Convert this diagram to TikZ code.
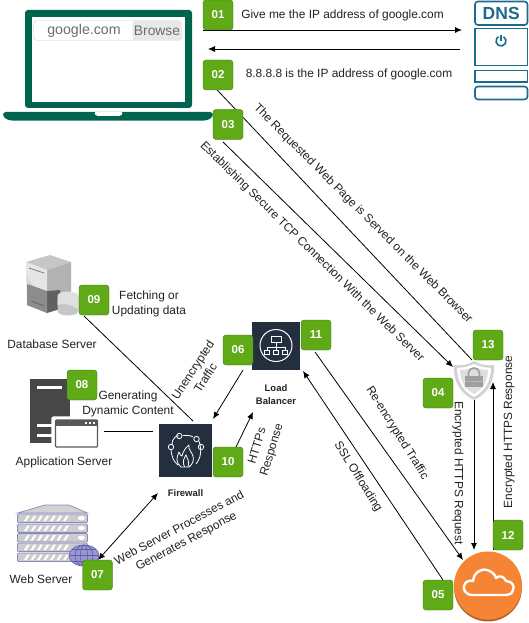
\documentclass[tikz,border=0pt]{standalone}
\usepackage{fontspec}
\setmainfont{Liberation Sans}
\usepackage{xcolor}
\usetikzlibrary{arrows.meta,shapes.geometric}
\definecolor{badge}{HTML}{60A917}
\definecolor{badgeb}{HTML}{3F7A10}
\definecolor{lap}{HTML}{00644F}
\definecolor{dnsc}{HTML}{1A6B8C}
\definecolor{awsd}{HTML}{232F3E}
\definecolor{orng}{HTML}{F58534}
\definecolor{txt}{HTML}{222222}
\tikzset{
 x=1pt,y=-1pt,
 badgebox/.style={draw=badgeb,fill=badge,rounded corners=3pt,minimum width=30pt,minimum height=30pt,inner sep=0pt,text=white,font=\fontsize{11.5}{11.5}\selectfont\bfseries},
 badgeserif/.style={badgebox,font=\fontsize{11.5}{11.5}\selectfont\bfseries\rmfamily},
 lbl/.style={inner sep=0pt,align=center,text=txt,font=\fontsize{11.9}{15}\selectfont},
 boldlbl/.style={inner sep=0pt,align=center,text=txt,font=\fontsize{9.5}{12.5}\selectfont\bfseries},
 conn/.style={draw=black,line width=.8pt},
 arr/.style={conn,-{Latex[length=7pt,width=6pt]}},
 darr/.style={conn,{Latex[length=7pt,width=6pt]}-{Latex[length=7pt,width=6pt]}},
 awsbox/.style={fill=awsd,draw=none,inner sep=0pt},
 icon/.style={draw=white,line width=.8pt,fill=none},
}
\begin{document}
\begin{tikzpicture}
\useasboundingbox (0,0) rectangle (529,623);
\fill[white] (0,0) rectangle (529,623);
% laptop
\fill[lap,rounded corners=3pt] (25,108) -- (25,10) -- (192,10) -- (192,108) -- cycle;
\fill[white] (32,17) rectangle (185,102);
\fill[lap,rounded corners=3pt] (3,112) -- (213,112) -- (213,117) -- (207,120.5) -- (9,120.5) -- (3,117) -- cycle;
\fill[white,rounded corners=1.5pt] (94,112) -- (123,112) -- (121,116) -- (96,116) -- cycle;
\draw[draw=gray!40,rounded corners=4pt,fill=white] (33.5,20.5) rectangle (182,40.5);
\fill[gray!18,rounded corners=4pt] (132.5,21) rectangle (181.5,40);
\fill[gray!18] (132.5,21) rectangle (140,40);
\node[inner sep=0pt,text=gray!85!black,font=\fontsize{14.2}{14}\selectfont] (site) at (84,30.5) {google.com};
\node[inner sep=0pt,text=gray!85!black,font=\fontsize{13.8}{14}\selectfont] (browse) at (157,30.5) {Browse};
\coordinate (lapA) at (203,30);
\coordinate (lapB) at (208,49);
\coordinate (lapC) at (204,76);
% DNS
\begin{scope}[draw=dnsc,line width=1.6pt]
\draw[rounded corners=3pt] (475,25) -- (475,1.5) -- (527.5,1.5) -- (527.5,25) -- cycle;
\draw (475,28.5) rectangle (527.5,65.5);
\draw (475,70.5) rectangle (527.5,82);
\draw[rounded corners=3pt] (475,86.5) -- (527.5,86.5) -- (527.5,99.5) -- (475,99.5) -- cycle;
\draw (503.5,36.7) arc[start angle=-60,end angle=240,radius=5];
\draw (501,35.5) -- (501,41);
\end{scope}
\node[inner sep=0pt,text=dnsc,font=\fontsize{17.5}{17}\selectfont\bfseries] (dnsl) at (501.2,13.5) {DNS};
\coordinate (dnsA) at (462,30);
\coordinate (dnsB) at (460,49);
% database server
\fill[gray!45] (26,262) -- (50,255) -- (71,262) -- (47,270) -- cycle;
\fill[gray!30] (26,262) -- (47,270) -- (47,313) -- (27,305) -- cycle;
\fill[gray!60] (47,270) -- (71,262) -- (71,295) -- (47,300) -- cycle;
\fill[gray!20] (26,262) -- (47,270) -- (47,291) .. controls (35,291) and (28,280) .. (26,270) -- cycle;
\fill[black!62] (47,291) -- (60,290) -- (60,309) -- (47,313) -- cycle;
\fill[black!45] (27,284) -- (47,291) -- (47,313) -- (27,305) -- cycle;
\draw[black!65,line width=.6pt] (29,268) -- (44,273);
\draw[black!65,line width=.6pt] (31,301) -- (44,306);
\fill[gray!45] (57.5,296) -- (57.5,311) arc[start angle=180,end angle=0,x radius=10.5,y radius=4.5] -- (78.5,296) -- cycle;
\fill[gray!25] (68,296) ellipse[x radius=10.5,y radius=4.5];
\fill[gray!25] (57.5,305) .. controls (62,303) and (72,304) .. (78.5,310) -- (78.5,298) -- (57.5,298) -- cycle;
\node[lbl] (dbl) at (52,344.5) {Database Server};
% application server
\fill[black!72] (30,379) -- (70,379) -- (70,443) -- (30,443) -- cycle;
\fill[white] (37,386) rectangle (62,388.5);
\fill[white] (37,424) rectangle (56,426.5);
\fill[white] (37,434) rectangle (56,436.5);
\draw[white,line width=1.5pt,fill=white,rounded corners=2pt] (52,417) rectangle (99,449);
\draw[black!65,line width=1.3pt,fill=white,rounded corners=1pt] (55.5,420) rectangle (97.5,447);
\fill[black!65] (55.5,420) rectangle (97.5,425.5);
\fill[white] (85,421.5) rectangle (87,423.5);
\fill[white] (89,421.5) rectangle (91,423.5);
\fill[white] (93,421.5) rectangle (95,423.5);
\node[lbl] (appl) at (64,462.5) {Application Server};
\coordinate (appA) at (104,431);
% web server
\fill[gray!35,draw=blue!30!gray!70,line width=.7pt] (17.5,513) -- (45,505) -- (69,505) -- (87.5,513) -- cycle;
\foreach \yy in {514,524,533.5,543,553}{
 \fill[gray!40,draw=blue!30!gray!70,line width=.7pt,rounded corners=1pt] (17.5,\yy) rectangle (87.5,\yy+8.5);
 \foreach \xx in {24,30.5,...,64}{\fill[white] (\xx,\yy+7) -- (\xx+2.5,\yy+7) -- (\xx+6,\yy+1.5) -- (\xx+3.5,\yy+1.5) -- cycle;}
 \fill[white] (81.5,\yy+4.2) ellipse[x radius=3.5,y radius=2.2];
}
\fill[blue!35!gray!60] (84,555.5) ellipse[x radius=15,y radius=10.5];
\begin{scope}[draw=blue!35!gray!95,line width=.6pt]
\draw (84,555.5) ellipse[x radius=15,y radius=10.5];
\draw (84,555.5) ellipse[x radius=9,y radius=10.5];
\draw (84,555.5) ellipse[x radius=3.5,y radius=10.5];
\draw (69.5,555.5) -- (99,555.5);
\draw (72,549.5) -- (96,549.5);
\draw (72,561.5) -- (96,561.5);
\end{scope}
\node[lbl] (webl) at (41,579.5) {Web Server};
% firewall
\node[awsbox,minimum width=53pt,minimum height=53pt] (fw) at (185.5,450.5) {};
\begin{scope}
\draw[icon] (172,445) .. controls (172,437) and (178,435) .. (179,436);
\draw[icon] (183,435.5) .. controls (188,435) and (192,436) .. (193,437);
\draw[icon] (199,441) .. controls (202,450) and (201,458) .. (196,464);
\draw[icon] (171,450) .. controls (172,458) and (174,462) .. (178,465);
\foreach \px/\py in {179.3/436,196.5/439,201/447,171/447}{\draw[icon] (\px,\py) circle[radius=2.7];}
\draw[icon,line join=round] (181,467) .. controls (176,463) and (176,458) .. (179,452) .. controls (180,455) and (181,456) .. (182,456) .. controls (183,452) and (185,448) .. (189,445) .. controls (188,450) and (192,452) .. (193,456) .. controls (194,460) and (193,464) .. (189,467) -- cycle;
\draw[icon] (184.5,467) .. controls (182,462) and (184,458) .. (186,455) .. controls (187,459) and (190,461) .. (188,467);
\end{scope}
\node[boldlbl] (fwl) at (185.5,493.5) {Firewall};
% load balancer
\node[awsbox,minimum width=48pt,minimum height=48pt] (lb) at (276,345.5) {};
\draw[draw=white,line width=1pt] (276,345.5) circle[radius=16];
\begin{scope}[draw=white,line width=.8pt]
\draw (271,336) rectangle (281,342);
\draw (276,342) -- (276,347);
\draw (267,350) -- (267,347) -- (285,347) -- (285,350);
\draw (276,347) -- (276,350);
\draw (264.5,350) rectangle (269.5,354);
\draw (273.5,350) rectangle (278.5,354);
\draw (282.5,350) rectangle (287.5,354);
\end{scope}
\node[boldlbl] (lbl1) at (276,394.5) {Load\\Balancer};
% shield
\node[inner sep=0pt,minimum size=1pt] (shield) at (474,380) {};
\fill[gray!35] (474,361) .. controls (480,365) and (488,366) .. (494,365) .. controls (495,382) and (487,394) .. (474,400) .. controls (461,394) and (453,382) .. (454,365) .. controls (460,366) and (468,365) .. (474,361) -- cycle;
\fill[white] (474,364) .. controls (480,367) and (486,368) .. (491,367.5) .. controls (491,381) and (485,391) .. (474,397) .. controls (463,391) and (457,381) .. (457,367.5) .. controls (462,368) and (468,367) .. (474,364) -- cycle;
\fill[gray!25] (474,367) .. controls (479,369) and (484,370) .. (488,370) .. controls (488,381) and (483,389) .. (474,394) .. controls (465,389) and (460,381) .. (460,370) .. controls (464,370) and (469,369) .. (474,367) -- cycle;
\fill[gray!75] (465,376) rectangle (483,387);
\draw[gray!75,line width=1.7pt] (468.5,376) -- (468.5,373) arc[start angle=180,end angle=360,x radius=5.5,y radius=5] -- (479.5,376);
\fill[gray!55] (465,381) rectangle (483,382);
% cloud
\fill[orng!75!black] (488,587.5) circle[radius=34];
\fill[orng] (488,585.5) circle[radius=34];
\draw[white,line width=2.4pt,line join=round,fill=none] (473,595) .. controls (465,595) and (463,589) .. (464,586) .. controls (465,581) and (470,580) .. (473,581) .. controls (473,574) and (480,568) .. (487,570) .. controls (491,571) and (495,574) .. (496,578) .. controls (499,575) and (504,576) .. (506,581) .. controls (512,581) and (515,586) .. (513,590) .. controls (512,594) and (509,595) .. (506,595) -- cycle;
% connector ends
\coordinate (c13) at (472,360);
\coordinate (c03) at (223,142);
\coordinate (c04) at (453,367);
\coordinate (c11) at (315,352);
\coordinate (cloudA) at (463,560);
\coordinate (cloudB) at (443,580);
\coordinate (lbA) at (303,371);
\coordinate (c06) at (243,370);
\coordinate (fwA) at (213,419);
\coordinate (c10) at (236,447);
\coordinate (lbB) at (253,412);
\coordinate (c07) at (98,560);
\coordinate (fwB) at (158,493);
\coordinate (c09) at (84,316);
\coordinate (fwC) at (193,421);
\coordinate (fwD) at (153,431);
\coordinate (shA) at (474,400);
\coordinate (cloudC) at (474,550);
\coordinate (cloudD) at (493,550);
\coordinate (shB) at (493,382);
% connectors
\draw[arr] (lapA) -- (dnsA);
\draw[arr] (dnsB) -- (lapB);
\draw[arr] (c13) -- (lapC);
\draw[arr] (c03) -- (c04);
\draw[arr] (c11) -- (cloudA);
\draw[arr] (cloudB) -- (lbA);
\draw[arr] (c06) -- (fwA);
\draw[arr] (c10) -- (lbB);
\draw[darr] (c07) -- (fwB);
\draw[conn] (c09) -- (fwC);
\draw[conn] (appA) -- (fwD);
\draw[arr] (shA) -- (cloudC);
\draw[arr] (cloudD) -- (shB);
% badges
\node[badgebox] (b01) at (218,15) {01};
\node[badgebox] (b02) at (218,75) {02};
\node[badgebox] (b03) at (228,124.5) {03};
\node[badgebox] (b04) at (438,393) {04};
\node[badgebox] (b05) at (438,595) {05};
\node[badgebox] (b06) at (238,350) {06};
\node[badgeserif] (b07) at (97.5,575) {07};
\node[badgeserif] (b08) at (82,385) {08};
\node[badgeserif] (b09) at (94,300) {09};
\node[badgebox] (b10) at (228,462) {10};
\node[badgebox] (b11) at (316,335) {11};
\node[badgebox] (b12) at (508,535) {12};
\node[badgebox] (b13) at (488,345) {13};
% labels
\node[lbl] (t01) at (342.5,15) {Give me the IP address of google.com};
\node[lbl] (t02) at (349,74.5) {8.8.8.8 is the IP address of google.com};
\node[lbl,rotate=-45] (t13) at (363,214) {The Requested Web Page is Served on the Web Browser};
\node[lbl,rotate=-44.5] (t03) at (312,252) {Establishing Secure TCP Connection With the Web Server};
\node[lbl,rotate=-58] (t11) at (397,433) {Re-encrypted Traffic};
\node[lbl,rotate=-58] (t05) at (358,477) {SSL Offloading};
\node[lbl,rotate=-90] (t04) at (458,473) {Encrypted HTTPS Request};
\node[lbl,rotate=90] (t12) at (509,432) {Encrypted HTTPS Response};
\node[lbl,rotate=57] (t06) at (199,374) {Unencrypted\\Traffic};
\node[lbl,rotate=73] (t10) at (265,448) {HTTPs\\Response};
\node[lbl,rotate=28] (t07) at (183,535) {Web Server Processes and\\Generates Response};
\node[lbl] (t09) at (149,304) {Fetching or\\Updating data};
\node[lbl] (t08) at (128,404) {Generating\\Dynamic Content};
\end{tikzpicture}
\end{document}
